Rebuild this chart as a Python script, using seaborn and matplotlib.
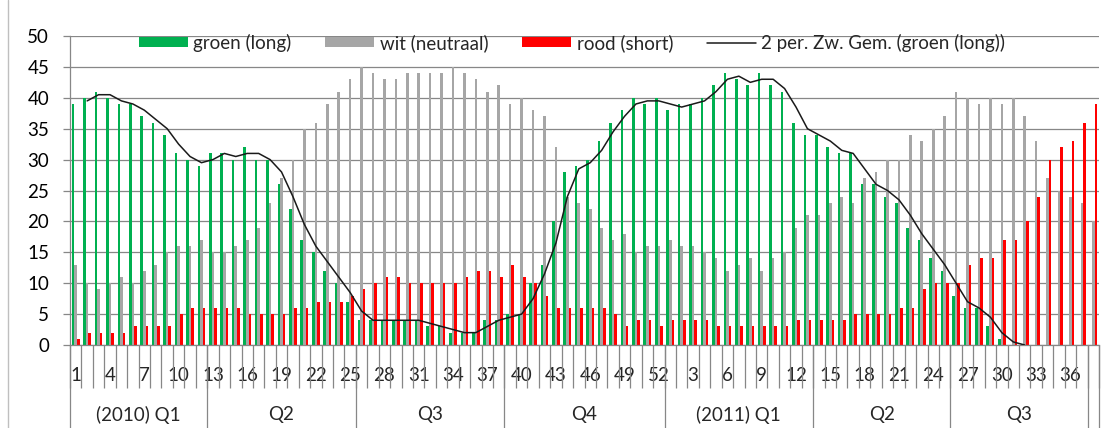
import numpy as np
import pandas as pd
import matplotlib
matplotlib.use("Agg")
import matplotlib.pyplot as plt
from matplotlib.patches import Patch
from matplotlib.lines import Line2D
import matplotlib.transforms as mtransforms
import seaborn as sns

# --- data ---
weeks = list(range(1, 53)) + list(range(1, 39))  # 2010 wk1-52, 2011 wk1-38

groen = [39, 40, 41, 40, 39, 39, 37, 36, 34, 31, 30, 29, 31, 31, 30, 32, 30, 30, 26, 22,
         17, 15, 12, 10, 7, 4, 4, 4, 4, 4, 4, 3, 3, 2, 2, 2, 4, 4, 5, 5,
         10, 13, 20, 28, 29, 30, 33, 36, 38, 40, 39, 40,
         38, 39, 39, 40, 42, 44, 43, 42, 44, 42, 41, 36, 34, 34, 32, 31, 31, 26,
         26, 24, 23, 19, 17, 14, 12, 8, 6, 6, 3, 1, 0, 0,
         np.nan, np.nan, np.nan, np.nan, np.nan, np.nan]

wit = [13, 10, 9, 10, 11, 10, 12, 13, 15, 16, 16, 17, 15, 15, 16, 17, 19, 23, 27, 30,
       35, 36, 39, 41, 43, 45, 44, 43, 43, 44, 44, 44, 44, 45, 44, 43, 41, 42, 39, 40,
       38, 37, 32, 24, 23, 22, 19, 17, 18, 15, 16, 16,
       17, 16, 16, 15, 14, 12, 13, 14, 12, 14, 15, 19, 21, 21, 23, 24, 23, 27,
       28, 30, 30, 34, 33, 35, 37, 41, 40, 39, 40, 39, 40, 37, 33, 27, 25, 24, 23, 20]

rood = [1, 2, 2, 2, 2, 3, 3, 3, 3, 5, 6, 6, 6, 6, 6, 5, 5, 5, 5, 6,
        6, 7, 7, 7, 8, 9, 10, 11, 11, 10, 10, 10, 10, 10, 11, 12, 12, 11, 13, 11,
        10, 8, 6, 6, 6, 6, 6, 5, 3, 4, 4, 3,
        4, 4, 4, 4, 3, 3, 3, 3, 3, 3, 3, 4, 4, 4, 4, 4, 5, 5,
        5, 5, 6, 6, 9, 10, 10, 10, 13, 14, 14, 17, 17, 20, 24, 30, 32, 33, 36, 39]

kwartalen = ["(2010) Q1", "Q2", "Q3", "Q4", "(2011) Q1", "Q2", "Q3", ""]
kwartaal_weken = [12, 13, 13, 14, 13, 12, 12, 1]

reeksen = ["groen (long)", "wit (neutraal)", "rood (short)"]
kleuren = ["#00B050", "#A6A6A6", "#FF0000"]
lijn_label = "2 per. Zw. Gem. (groen (long))"

n = len(weeks)
pos = np.arange(n)
df = pd.DataFrame({
    "pos": np.tile(pos, 3),
    "waarde": groen + wit + rood,
    "reeks": np.repeat(reeksen, n),
})
gem = pd.Series(groen).rolling(2).mean()

# --- style ---
sns.set_theme(style="white")
plt.rcParams["font.family"] = ["Lato", "DejaVu Sans"]
plt.rcParams["font.size"] = 13.5
raster = "#878787"
fs = 13.5

fig = plt.figure(figsize=(11.19, 4.28), dpi=100)
ax = fig.add_axes([70 / 1119, 1 - 345 / 428, 1029 / 1119, 309 / 428])

sns.barplot(data=df, x="pos", y="waarde", hue="reeks", hue_order=reeksen,
            palette=kleuren, saturation=1, width=0.68, errorbar=None,
            linewidth=0, legend=False, ax=ax)
ax.plot(pos, gem, color="#1a1a1a", lw=1.1, zorder=5)

ax.set_xlim(-0.5, n - 0.5)
ax.set_ylim(0, 50)
ax.set_yticks(range(0, 51, 5))
ax.yaxis.grid(True, color=raster, lw=0.9)
ax.set_axisbelow(True)
ax.set_xlabel("")
ax.set_ylabel("")
for s in ["top", "right"]:
    ax.spines[s].set_visible(False)
for s in ["left", "bottom"]:
    ax.spines[s].set_color(raster)
    ax.spines[s].set_linewidth(0.9)

ax.tick_params(axis="y", length=5, width=0.9, color=raster, pad=10,
               labelsize=fs, labelcolor="#000000", left=True)

# week labels every 3rd category, boundary ticks between all categories
lbl_pos = pos[::3]
ax.set_xticks(lbl_pos)
ax.set_xticklabels([str(weeks[i]) for i in lbl_pos], fontsize=fs)
ax.tick_params(axis="x", which="major", length=0, pad=16, bottom=True)
ax.set_xticks(np.arange(-0.5, n, 1.0), minor=True)
ax.tick_params(axis="x", which="minor", length=31, width=0.9, color=raster, bottom=True)

# quarter row
trans = mtransforms.blended_transform_factory(ax.transData, ax.transAxes)
grenzen = np.concatenate([[0], np.cumsum(kwartaal_weken)]) - 0.5
for g in grenzen:
    ax.plot([g, g], [0, -0.27], color=raster, lw=0.9, transform=trans, clip_on=False)
for i, q in enumerate(kwartalen):
    mid = (grenzen[i] + grenzen[i + 1]) / 2
    ax.text(mid, -0.226, q, transform=trans, ha="center", va="center", fontsize=fs)

# legend
handles = [Patch(facecolor=c, edgecolor="none") for c in kleuren]
handles.append(Line2D([0], [0], color="#1a1a1a", lw=1.1))
ax.legend(handles, reeksen + [lijn_label], ncol=4, frameon=False,
          loc="center", bbox_to_anchor=(0.488, 0.977), fontsize=fs,
          handlelength=2.6, handleheight=0.45, handletextpad=0.3,
          columnspacing=1.8, borderaxespad=0)

# chart border
fig.add_artist(Line2D([8 / 1119, 8 / 1119], [0, 1], color="#BFBFBF", lw=1))

fig.savefig("out.png", dpi=100)
